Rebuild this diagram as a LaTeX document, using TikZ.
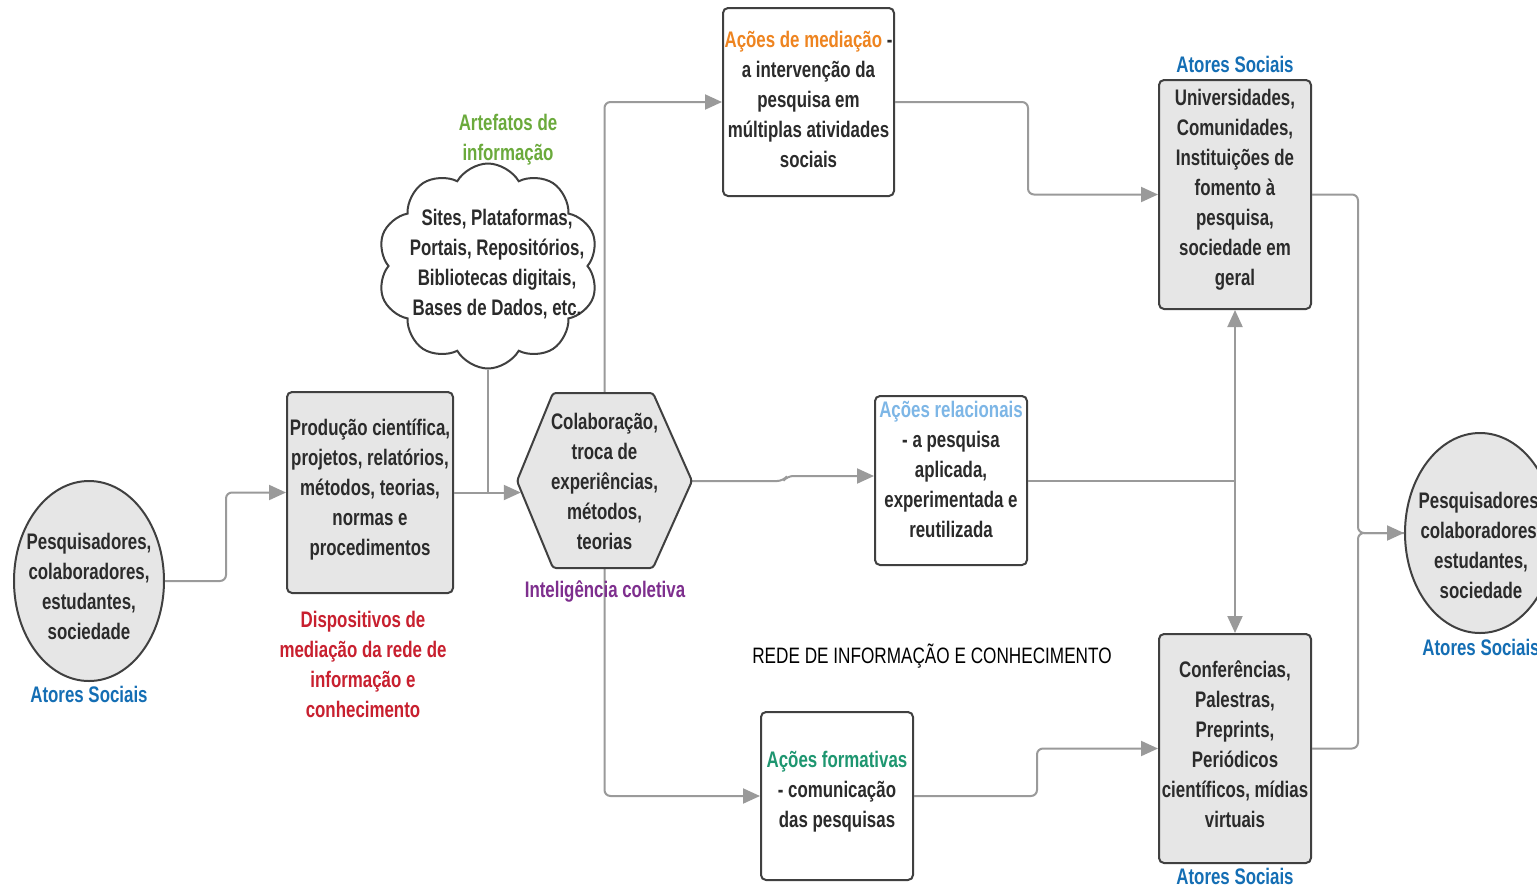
\documentclass[tikz,border=0pt]{standalone}
\usepackage{fontspec}
\setmainfont{Liberation Sans}[UprightFont=* Bold, FakeStretch=0.75]
\newfontfamily\redefont{Liberation Sans}[FakeStretch=0.77]
\usetikzlibrary{shapes.geometric,shapes.symbols,arrows.meta}
\definecolor{bdr}{HTML}{404040}
\definecolor{boxgray}{HTML}{E6E6E6}
\definecolor{conncol}{HTML}{9A9A9A}
\definecolor{atorblue}{HTML}{146EB4}
\definecolor{dispred}{HTML}{C8202F}
\definecolor{artgreen}{HTML}{6BAA3C}
\definecolor{medorange}{HTML}{EE8420}
\definecolor{relblue}{HTML}{7DB6E6}
\definecolor{formgreen}{HTML}{1E9670}
\definecolor{intpurple}{HTML}{7E2F8E}
\definecolor{txtcol}{HTML}{2B2B2B}
\begin{document}
\begin{tikzpicture}[x=1pt,y=-1pt,
  txt/.style={font=\fontsize{22.5}{30}\selectfont, align=center, inner sep=0pt, text=txtcol},
  graybox/.style={draw=bdr, fill=boxgray, line width=2pt, rounded corners=5pt, inner sep=0pt},
  whitebox/.style={draw=bdr, fill=white, line width=2pt, rounded corners=5pt, inner sep=0pt},
  ellbox/.style={ellipse, draw=bdr, fill=boxgray, line width=2pt, minimum width=150pt, minimum height=200pt, inner sep=0pt},
  conn/.style={draw=conncol, line width=2pt, rounded corners=6pt},
  arr/.style={conn, -{Triangle[length=17pt,width=15pt]}},
  darr/.style={conn, {Triangle[length=17pt,width=15pt]}-{Triangle[length=17pt,width=15pt]}}
]
\useasboundingbox (0,0) rectangle (1537,887);
\fill[white] (0,0) rectangle (1537,887);

% ---- nodes (shapes) ----
\node[ellbox] (leftell) at (89,581) {};
\node[graybox, minimum width=166pt, minimum height=201pt] (prod) at (370,492.5) {};
\node[cloud, draw=bdr, fill=white, line width=2pt, cloud puffs=10, cloud puff arc=120, aspect=1.08, minimum width=221pt, minimum height=205pt, inner sep=0pt] (cloud) at (488,266) {};
\node[inner sep=0pt, minimum width=175pt, minimum height=175pt] (hex) at (604.5,481) {};
\node[whitebox, minimum width=171pt, minimum height=188pt] (med) at (808.5,102) {};
\node[graybox, minimum width=152pt, minimum height=229pt] (univ) at (1235,194.5) {};
\node[whitebox, minimum width=152pt, minimum height=169pt] (rel) at (951,480.5) {};
\node[graybox, minimum width=152pt, minimum height=229pt] (conf) at (1235,748.5) {};
\node[whitebox, minimum width=152pt, minimum height=168pt] (form) at (837,796) {};
\node[ellbox] (rightell) at (1480,533) {};

% ---- connectors ----
\draw[arr] (hex.center) |- (med.west);
\draw[arr] (hex.center) |- (form.west);
\draw[arr] (leftell.east) -- ++(61,0) |- (prod.west);
\draw[conn] (cloud.south) -- (cloud.south |- prod.east);
\draw[arr] (prod.east) -- ([xshift=4pt]prod.east -| hex.west);
\draw[arr] (hex.east) -- ++(91,0) -- ++(4,-5) -- ([yshift=4.5pt]rel.west);
\draw[arr] (med.east) -- ++(133,0) |- (univ.west);
\draw[conn] (rel.east) -- (rel.east -| univ.south);
\draw[darr] (univ.south) -- (conf.north);
\draw[arr] (form.east) -- ++(123,0) |- (conf.west);
\draw[arr] (univ.east) -- ++(46,0) |- (rightell.west);
\draw[conn] (conf.east) -- ++(46,0) |- (rightell.west);

% hexagon drawn over the vertical line
\draw[draw=bdr, fill=boxgray, line width=2pt, rounded corners=3pt]
  (517,481) -- (553,393) -- (653,393) -- (692,481) -- (653,568) -- (553,568) -- cycle;

% ---- texts ----
\node[txt] (leftelltxt) at (89,586.5) {Pesquisadores,\\colaboradores,\\estudantes,\\sociedade};
\node[txt, text=atorblue] (atorL) at (89,694) {Atores Sociais};
\node[txt] (prodtxt) at (370,490) {Produção científica,\\projetos, relatórios,\\métodos, teorias,\\normas e\\procedimentos};
\node[txt, text=dispred] (disp) at (363,664.5) {Dispositivos de\\mediação da rede de\\informação e\\conhecimento};
\node[txt] (cloudtxt) at (497,264) {Sites, Plataformas,\\Portais, Repositórios,\\Bibliotecas digitais,\\Bases de Dados, etc.};
\node[txt, text=artgreen] (artef) at (508,140) {Artefatos de\\informação};
\node[txt] (hextxt) at (604.5,481) {Colaboração,\\troca de\\experiências,\\métodos,\\teorias};
\node[txt, text=intpurple] (intel) at (605,591) {Inteligência coletiva};
\node[txt] (medtxt) at (808.5,99) {{\color{medorange}Ações de mediação} -\\a intervenção da\\pesquisa em\\múltiplas atividades\\sociais};
\node[txt, text=atorblue] (atorU) at (1235,64) {Atores Sociais};
\node[txt] (univtxt) at (1235,190) {Universidades,\\Comunidades,\\Instituições de\\fomento à\\pesquisa,\\sociedade em\\geral};
\node[txt] (reltxt) at (951,469.5) {{\color{relblue}Ações relacionais}\\- a pesquisa\\aplicada,\\experimentada e\\reutilizada};
\node[txt] (conftxt) at (1235,744) {Conferências,\\Palestras,\\Preprints,\\Periódicos\\científicos, mídias\\virtuais};
\node[txt, text=atorblue] (atorC) at (1235,876) {Atores Sociais};
\node[txt] (formtxt) at (837,791.5) {{\color{formgreen}Ações formativas}\\- comunicação\\das pesquisas};
\node[txt] (righttxt) at (1481,545) {Pesquisadores,\\colaboradores,\\estudantes,\\sociedade};
\node[txt, text=atorblue] (atorR) at (1481,647) {Atores Sociais};
\node[txt, text=black, font=\redefont\fontsize{22.3}{26}\selectfont] (rede) at (932,656) {REDE DE INFORMAÇÃO E CONHECIMENTO};
\end{tikzpicture}
\end{document}
